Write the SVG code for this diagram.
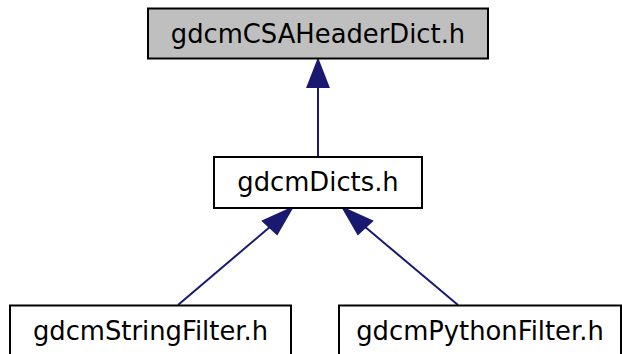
<svg xmlns="http://www.w3.org/2000/svg" width="622" height="354" viewBox="0 0 622 354">
<style>
.box{fill:#ffffff;stroke:#000000;stroke-width:2}
.hl{fill:#bfbfbf}
.lbl{font-family:"DejaVu Sans",sans-serif;font-size:25.8px;text-anchor:middle;fill:#000000}
.edge{stroke:#191970;stroke-width:2;fill:none}
.head{fill:#191970;stroke:#191970;stroke-width:2}
</style>
<rect width="622" height="354" fill="#ffffff"/>
<g id="connectors">
<line class="edge" x1="318" y1="156" x2="318" y2="86"/>
<polygon class="head" points="318,60 307.5,87 328.5,87"/>
<line class="edge" x1="178" y1="305" x2="271" y2="226"/>
<polygon class="head" points="292,208 263,221 277,234"/>
<line class="edge" x1="458" y1="305" x2="364" y2="226"/>
<polygon class="head" points="343,208 358,234 372,221"/>
</g>
<g id="node-csa">
<rect class="box hl" x="148" y="8.5" width="340" height="50"/>
<text class="lbl" x="318" y="43">gdcmCSAHeaderDict.h</text>
</g>
<g id="node-dicts">
<rect class="box" x="214" y="157" width="208" height="51"/>
<text class="lbl" x="318" y="191">gdcmDicts.h</text>
</g>
<g id="node-string">
<rect class="box" x="10" y="305.5" width="281" height="52"/>
<text class="lbl" x="150.5" y="340">gdcmStringFilter.h</text>
</g>
<g id="node-python">
<rect class="box" x="339" y="305.5" width="282" height="52"/>
<text class="lbl" x="480" y="340">gdcmPythonFilter.h</text>
</g>
</svg>
